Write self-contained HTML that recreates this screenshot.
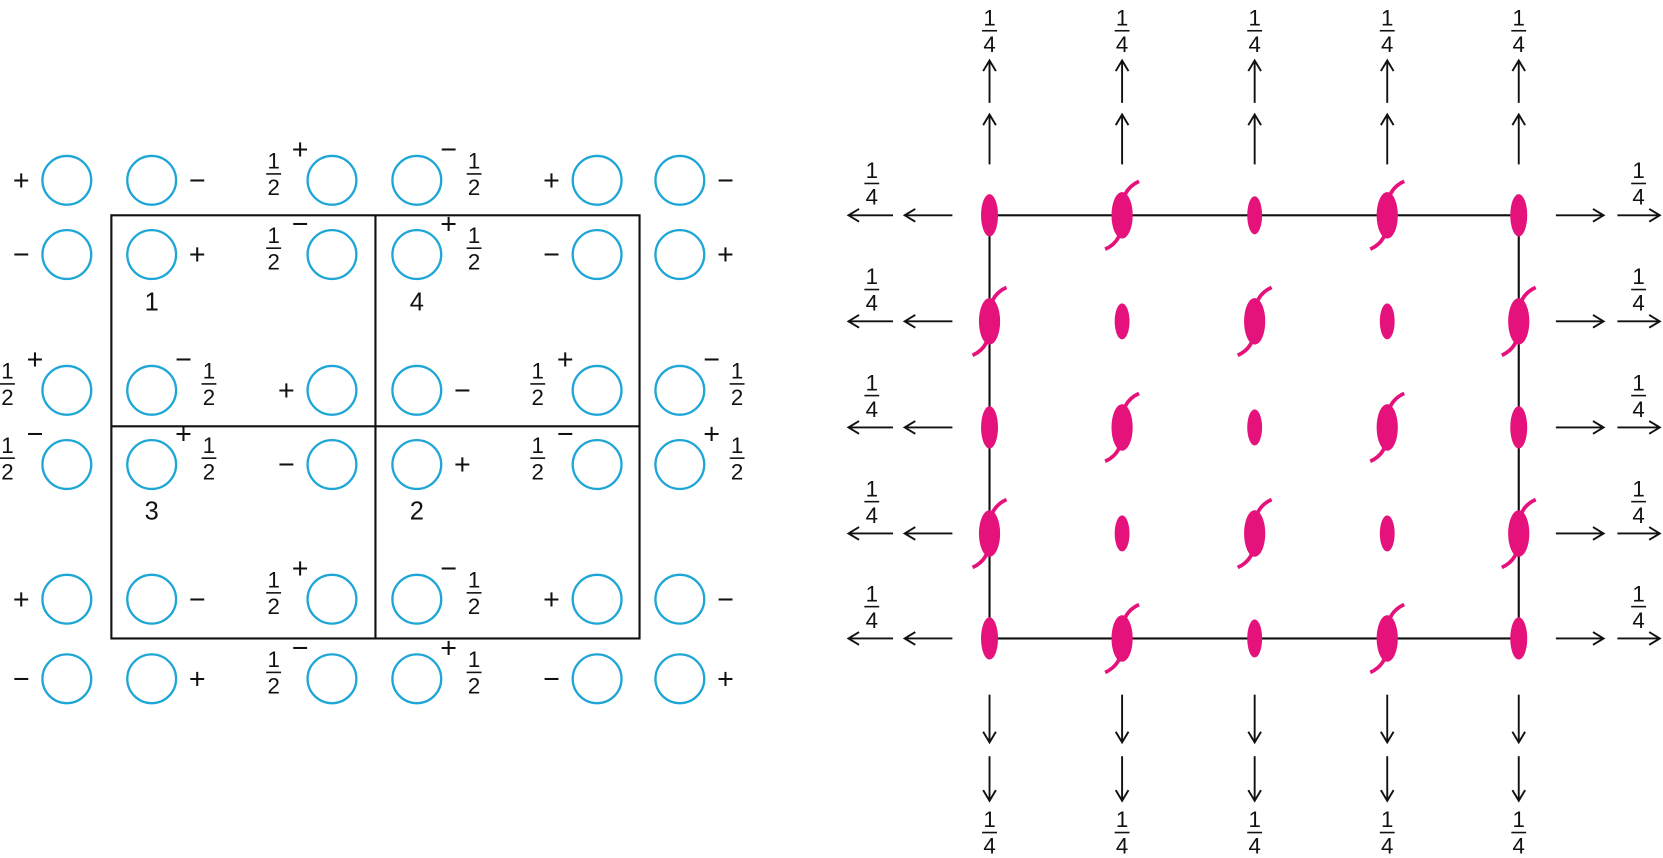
<!DOCTYPE html>
<html><head><meta charset="utf-8"><style>
html,body{margin:0;padding:0;background:#fff;}
svg{display:block;}
text{font-family:"Liberation Sans",sans-serif;fill:#111;}
.s{font-size:27px;text-anchor:middle;}
.f{font-size:21px;text-anchor:middle;}
.n{font-size:24px;text-anchor:middle;}
.c{fill:none;stroke:#1ea6d6;stroke-width:2.2;}
.m{fill:#e6127c;}
.h{fill:none;stroke:#e6127c;stroke-width:3.5;}
.a{stroke:#111;stroke-width:1.8;fill:none;}
</style></head><body>
<svg width="1663" height="858" viewBox="0 0 1568 809" xmlns="http://www.w3.org/2000/svg">
<defs>
<marker id="ar" markerWidth="14" markerHeight="14" refX="11" refY="7" orient="auto" markerUnits="userSpaceOnUse">
<path d="M1,1 L11,7 L1,13" fill="none" stroke="#111" stroke-width="1.8"/></marker>
<g id="fr"><text class="f" x="0" y="-5">1</text><line x1="-7" x2="7" y1="0" y2="0" stroke="#111" stroke-width="1.5"/><text class="f" x="0" y="20">2</text></g>
<g id="fq"><text class="f" x="0" y="-5">1</text><line x1="-7" x2="7" y1="0" y2="0" stroke="#111" stroke-width="1.5"/><text class="f" x="0" y="20">4</text></g>
<g id="sc">
<ellipse class="m" cx="0" cy="0" rx="10" ry="22"/>
<path class="h" d="M16,-32 Q-2,-24 0,0 Q2,24 -16,32"/>
</g>
</defs>

<rect x="105" y="203" width="498" height="399" fill="none" stroke="#111" stroke-width="2"/>
<line x1="354" y1="203" x2="354" y2="602" stroke="#111" stroke-width="2"/>
<line x1="105" y1="402" x2="603" y2="402" stroke="#111" stroke-width="2"/>

<g class="c">
<circle cx="63" cy="170" r="23"/><circle cx="143" cy="170" r="23"/><circle cx="313" cy="170" r="23"/><circle cx="393" cy="170" r="23"/><circle cx="563" cy="170" r="23"/><circle cx="641" cy="170" r="23"/>
<circle cx="63" cy="240" r="23"/><circle cx="143" cy="240" r="23"/><circle cx="313" cy="240" r="23"/><circle cx="393" cy="240" r="23"/><circle cx="563" cy="240" r="23"/><circle cx="641" cy="240" r="23"/>
<circle cx="63" cy="368" r="23"/><circle cx="143" cy="368" r="23"/><circle cx="313" cy="368" r="23"/><circle cx="393" cy="368" r="23"/><circle cx="563" cy="368" r="23"/><circle cx="641" cy="368" r="23"/>
<circle cx="63" cy="438" r="23"/><circle cx="143" cy="438" r="23"/><circle cx="313" cy="438" r="23"/><circle cx="393" cy="438" r="23"/><circle cx="563" cy="438" r="23"/><circle cx="641" cy="438" r="23"/>
<circle cx="63" cy="565" r="23"/><circle cx="143" cy="565" r="23"/><circle cx="313" cy="565" r="23"/><circle cx="393" cy="565" r="23"/><circle cx="563" cy="565" r="23"/><circle cx="641" cy="565" r="23"/>
<circle cx="63" cy="640" r="23"/><circle cx="143" cy="640" r="23"/><circle cx="313" cy="640" r="23"/><circle cx="393" cy="640" r="23"/><circle cx="563" cy="640" r="23"/><circle cx="641" cy="640" r="23"/>
</g>

<text class="s" x="20" y="179">+</text><text class="s" x="186" y="179">−</text>
<use href="#fr" x="258" y="164"/><text class="s" x="283" y="150">+</text>
<text class="s" x="423" y="150">−</text><use href="#fr" x="447" y="164"/>
<text class="s" x="520" y="179">+</text><text class="s" x="684" y="179">−</text>

<text class="s" x="20" y="249">−</text><text class="s" x="186" y="249">+</text>
<use href="#fr" x="258" y="234"/><text class="s" x="283" y="220">−</text>
<text class="s" x="423" y="220">+</text><use href="#fr" x="447" y="234"/>
<text class="s" x="520" y="249">−</text><text class="s" x="684" y="249">+</text>

<use href="#fr" x="7" y="362"/><text class="s" x="33" y="348">+</text>
<text class="s" x="173" y="348">−</text><use href="#fr" x="197" y="362"/>
<text class="s" x="270" y="377">+</text><text class="s" x="436" y="377">−</text>
<use href="#fr" x="507" y="362"/><text class="s" x="533" y="348">+</text>
<text class="s" x="671" y="348">−</text><use href="#fr" x="695" y="362"/>

<use href="#fr" x="7" y="432"/><text class="s" x="33" y="418">−</text>
<text class="s" x="173" y="418">+</text><use href="#fr" x="197" y="432"/>
<text class="s" x="270" y="447">−</text><text class="s" x="436" y="447">+</text>
<use href="#fr" x="507" y="432"/><text class="s" x="533" y="418">−</text>
<text class="s" x="671" y="418">+</text><use href="#fr" x="695" y="432"/>

<text class="s" x="20" y="574">+</text><text class="s" x="186" y="574">−</text>
<use href="#fr" x="258" y="559"/><text class="s" x="283" y="545">+</text>
<text class="s" x="423" y="545">−</text><use href="#fr" x="447" y="559"/>
<text class="s" x="520" y="574">+</text><text class="s" x="684" y="574">−</text>

<text class="s" x="20" y="649">−</text><text class="s" x="186" y="649">+</text>
<use href="#fr" x="258" y="634"/><text class="s" x="283" y="620">−</text>
<text class="s" x="423" y="620">+</text><use href="#fr" x="447" y="634"/>
<text class="s" x="520" y="649">−</text><text class="s" x="684" y="649">+</text>

<text class="n" x="143" y="293">1</text><text class="n" x="393" y="293">4</text>
<text class="n" x="143" y="490">3</text><text class="n" x="393" y="490">2</text>

<rect x="933" y="203" width="499" height="399" fill="none" stroke="#111" stroke-width="2"/>

<g class="m">
<ellipse cx="933" cy="203" rx="8" ry="20"/><ellipse cx="1183" cy="203" rx="7" ry="18"/><ellipse cx="1432" cy="203" rx="8" ry="20"/>
<ellipse cx="1058" cy="303" rx="7" ry="17"/><ellipse cx="1308" cy="303" rx="7" ry="17"/>
<ellipse cx="933" cy="403" rx="8" ry="20"/><ellipse cx="1183" cy="403" rx="7" ry="17"/><ellipse cx="1432" cy="403" rx="8" ry="20"/>
<ellipse cx="1058" cy="503" rx="7" ry="17"/><ellipse cx="1308" cy="503" rx="7" ry="17"/>
<ellipse cx="933" cy="602" rx="8" ry="20"/><ellipse cx="1183" cy="602" rx="7" ry="18"/><ellipse cx="1432" cy="602" rx="8" ry="20"/>
</g>
<use href="#sc" x="1058" y="203"/><use href="#sc" x="1308" y="203"/>
<use href="#sc" x="933" y="303"/><use href="#sc" x="1183" y="303"/><use href="#sc" x="1432" y="303"/>
<use href="#sc" x="1058" y="403"/><use href="#sc" x="1308" y="403"/>
<use href="#sc" x="933" y="503"/><use href="#sc" x="1183" y="503"/><use href="#sc" x="1432" y="503"/>
<use href="#sc" x="1058" y="602"/><use href="#sc" x="1308" y="602"/>

<g class="a" marker-end="url(#ar)">
<line x1="933" y1="155" x2="933" y2="108"/><line x1="933" y1="97" x2="933" y2="57"/>
<line x1="1058" y1="155" x2="1058" y2="108"/><line x1="1058" y1="97" x2="1058" y2="57"/>
<line x1="1183" y1="155" x2="1183" y2="108"/><line x1="1183" y1="97" x2="1183" y2="57"/>
<line x1="1308" y1="155" x2="1308" y2="108"/><line x1="1308" y1="97" x2="1308" y2="57"/>
<line x1="1432" y1="155" x2="1432" y2="108"/><line x1="1432" y1="97" x2="1432" y2="57"/>
<line x1="933" y1="655" x2="933" y2="700"/><line x1="933" y1="713" x2="933" y2="755"/>
<line x1="1058" y1="655" x2="1058" y2="700"/><line x1="1058" y1="713" x2="1058" y2="755"/>
<line x1="1183" y1="655" x2="1183" y2="700"/><line x1="1183" y1="713" x2="1183" y2="755"/>
<line x1="1308" y1="655" x2="1308" y2="700"/><line x1="1308" y1="713" x2="1308" y2="755"/>
<line x1="1432" y1="655" x2="1432" y2="700"/><line x1="1432" y1="713" x2="1432" y2="755"/>
<line x1="898" y1="203" x2="853" y2="203"/><line x1="842" y1="203" x2="800" y2="203"/>
<line x1="898" y1="303" x2="853" y2="303"/><line x1="842" y1="303" x2="800" y2="303"/>
<line x1="898" y1="403" x2="853" y2="403"/><line x1="842" y1="403" x2="800" y2="403"/>
<line x1="898" y1="503" x2="853" y2="503"/><line x1="842" y1="503" x2="800" y2="503"/>
<line x1="898" y1="602" x2="853" y2="602"/><line x1="842" y1="602" x2="800" y2="602"/>
<line x1="1467" y1="203" x2="1512" y2="203"/><line x1="1525" y1="203" x2="1565" y2="203"/>
<line x1="1467" y1="303" x2="1512" y2="303"/><line x1="1525" y1="303" x2="1565" y2="303"/>
<line x1="1467" y1="403" x2="1512" y2="403"/><line x1="1525" y1="403" x2="1565" y2="403"/>
<line x1="1467" y1="503" x2="1512" y2="503"/><line x1="1525" y1="503" x2="1565" y2="503"/>
<line x1="1467" y1="602" x2="1512" y2="602"/><line x1="1525" y1="602" x2="1565" y2="602"/>
</g>

<use href="#fq" x="933" y="29"/><use href="#fq" x="1058" y="29"/><use href="#fq" x="1183" y="29"/><use href="#fq" x="1308" y="29"/><use href="#fq" x="1432" y="29"/>
<use href="#fq" x="933" y="785"/><use href="#fq" x="1058" y="785"/><use href="#fq" x="1183" y="785"/><use href="#fq" x="1308" y="785"/><use href="#fq" x="1432" y="785"/>
<use href="#fq" x="822" y="173"/><use href="#fq" x="822" y="273"/><use href="#fq" x="822" y="373"/><use href="#fq" x="822" y="473"/><use href="#fq" x="822" y="572"/>
<use href="#fq" x="1545" y="173"/><use href="#fq" x="1545" y="273"/><use href="#fq" x="1545" y="373"/><use href="#fq" x="1545" y="473"/><use href="#fq" x="1545" y="572"/>
</svg>
</body></html>
